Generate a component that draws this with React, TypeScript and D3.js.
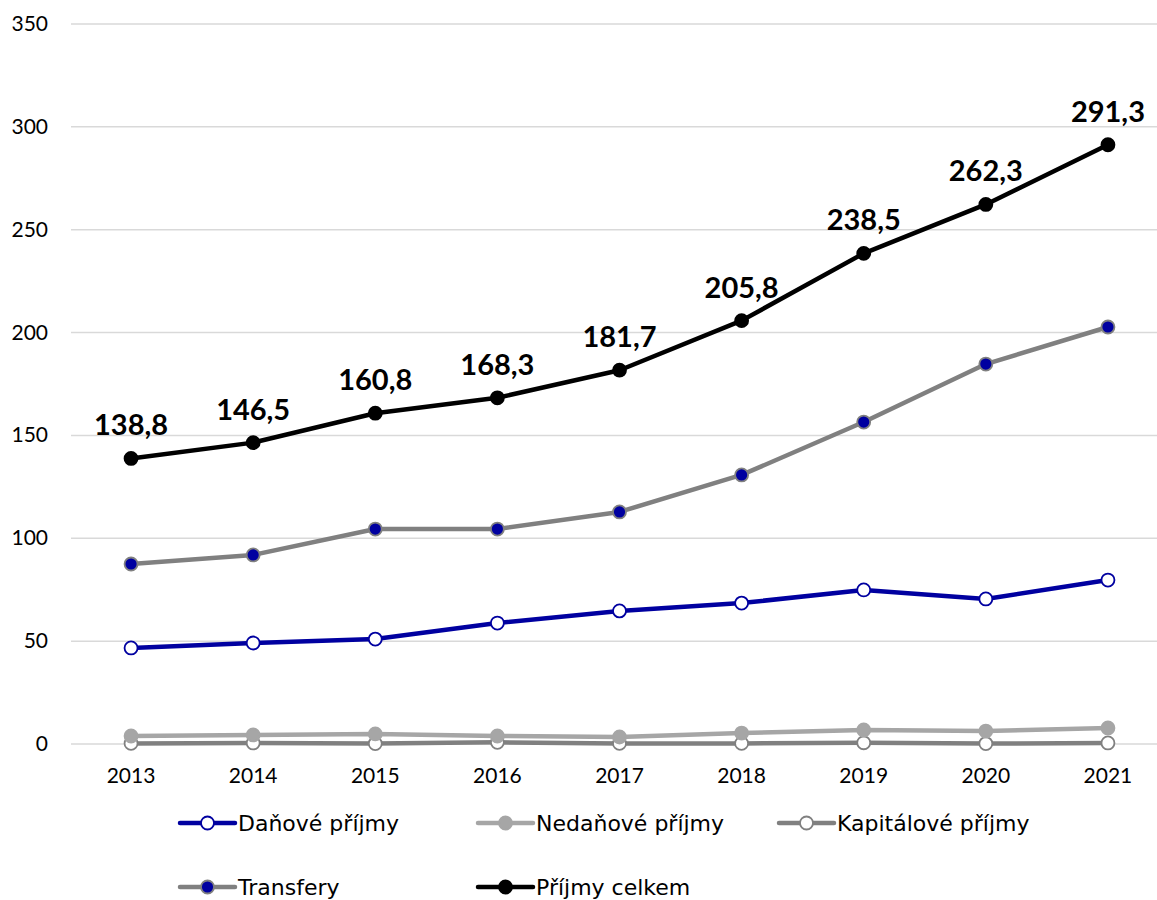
import React, { useEffect, useRef } from 'react';
import * as d3 from 'd3';

const years = ['2013', '2014', '2015', '2016', '2017', '2018', '2019', '2020', '2021'];
const danove = [46.7, 49.1, 51.0, 58.8, 64.7, 68.5, 74.9, 70.5, 79.7];
const nedanove = [3.9, 4.4, 4.9, 3.9, 3.4, 5.3, 6.8, 6.3, 7.8];
const kapitalove = [0.3, 0.5, 0.2, 0.8, 0.3, 0.3, 0.6, 0.2, 0.5];
const transfery = [87.5, 91.9, 104.5, 104.5, 112.8, 130.8, 156.5, 184.7, 202.7];
const celkem = [138.8, 146.5, 160.8, 168.3, 181.7, 205.8, 238.5, 262.3, 291.3];
const yTicks = [0, 50, 100, 150, 200, 250, 300, 350];

interface Series {
  name: string;
  values: number[];
  line: string;
  fill: string;
  stroke: string;
}

const series: Series[] = [
  { name: 'Daňové příjmy', values: danove, line: '#0000a0', fill: '#ffffff', stroke: '#0000a0' },
  { name: 'Nedaňové příjmy', values: nedanove, line: '#a6a6a6', fill: '#a6a6a6', stroke: '#a6a6a6' },
  { name: 'Kapitálové příjmy', values: kapitalove, line: '#808080', fill: '#ffffff', stroke: '#808080' },
  { name: 'Transfery', values: transfery, line: '#808080', fill: '#0000a0', stroke: '#808080' },
  { name: 'Příjmy celkem', values: celkem, line: '#000000', fill: '#000000', stroke: '#000000' },
];

const W = 1157;
const H = 900;
const FONT = 'Lato, "Open Sans", sans-serif';
const LEGEND_FONT = '"DejaVu Sans", sans-serif';

export default function App() {
  const svgRef = useRef<SVGSVGElement>(null);

  useEffect(() => {
    if (!svgRef.current) return;
    const svg = d3.select(svgRef.current);
    svg.selectAll('*').remove();

    const x = d3.scaleBand<string>().domain(years).range([70, 1169]);
    const cx = (i: number) => (x(years[i]) as number) + x.bandwidth() / 2;
    const y = d3.scaleLinear().domain([0, 350]).range([744, 24]);

    // grid
    svg.append('g')
      .selectAll('line')
      .data(yTicks)
      .enter()
      .append('line')
      .attr('x1', 71)
      .attr('x2', W)
      .attr('y1', d => y(d))
      .attr('y2', d => y(d))
      .attr('stroke', '#d9d9d9')
      .attr('stroke-width', 1.5);

    svg.append('g')
      .selectAll('text')
      .data(yTicks)
      .enter()
      .append('text')
      .attr('x', 48)
      .attr('y', d => y(d) + 7)
      .attr('text-anchor', 'end')
      .attr('font-family', FONT)
      .attr('font-size', 21)
      .attr('fill', '#000')
      .text(d => d);

    svg.append('g')
      .selectAll('text')
      .data(years)
      .enter()
      .append('text')
      .attr('x', (d, i) => cx(i))
      .attr('y', 783)
      .attr('text-anchor', 'middle')
      .attr('font-family', FONT)
      .attr('font-size', 21)
      .attr('fill', '#000')
      .text(d => d);

    const line = d3.line<number>()
      .x((d, i) => cx(i))
      .y(d => y(d));

    // draw in order so that lower series sit below
    const order = [2, 1, 0, 3, 4];
    order.forEach(si => {
      const s = series[si];
      const g = svg.append('g');
      g.append('path')
        .attr('d', line(s.values) as string)
        .attr('fill', 'none')
        .attr('stroke', s.line)
        .attr('stroke-width', 4.5)
        .attr('stroke-linejoin', 'round');
      g.selectAll('circle')
        .data(s.values)
        .enter()
        .append('circle')
        .attr('cx', (d, i) => cx(i))
        .attr('cy', d => y(d))
        .attr('r', 6.5)
        .attr('fill', s.fill)
        .attr('stroke', s.stroke)
        .attr('stroke-width', 1.8);
    });

    // data labels for total
    svg.append('g')
      .selectAll('text')
      .data(celkem)
      .enter()
      .append('text')
      .attr('x', (d, i) => cx(i))
      .attr('y', d => y(d) - 23)
      .attr('text-anchor', 'middle')
      .attr('font-family', FONT)
      .attr('font-weight', 700)
      .attr('font-size', 29)
      .attr('fill', '#000')
      .text(d => d3.format('.1f')(d).replace('.', ','));

    // legend
    const legendPos = [
      { x: 180, y: 823 },
      { x: 478, y: 823 },
      { x: 779, y: 823 },
      { x: 180, y: 887 },
      { x: 478, y: 887 },
    ];
    series.forEach((s, i) => {
      const p = legendPos[i];
      const g = svg.append('g').attr('transform', `translate(${p.x},${p.y})`);
      g.append('line')
        .attr('x1', 0)
        .attr('x2', 55)
        .attr('y1', 0)
        .attr('y2', 0)
        .attr('stroke', s.line)
        .attr('stroke-width', 4.5)
        .attr('stroke-linecap', 'round');
      g.append('circle')
        .attr('cx', 27.5)
        .attr('cy', 0)
        .attr('r', 6.5)
        .attr('fill', s.fill)
        .attr('stroke', s.stroke)
        .attr('stroke-width', 1.8);
      g.append('text')
        .attr('x', 58)
        .attr('y', 8)
        .attr('font-family', LEGEND_FONT)
        .attr('font-size', 22)
        .attr('fill', '#000')
        .text(s.name);
    });
  }, []);

  return (
    <svg
      ref={svgRef}
      width={W}
      height={H}
      style={{ display: 'block', position: 'absolute', top: 0, left: 0 }}
    />
  );
}
